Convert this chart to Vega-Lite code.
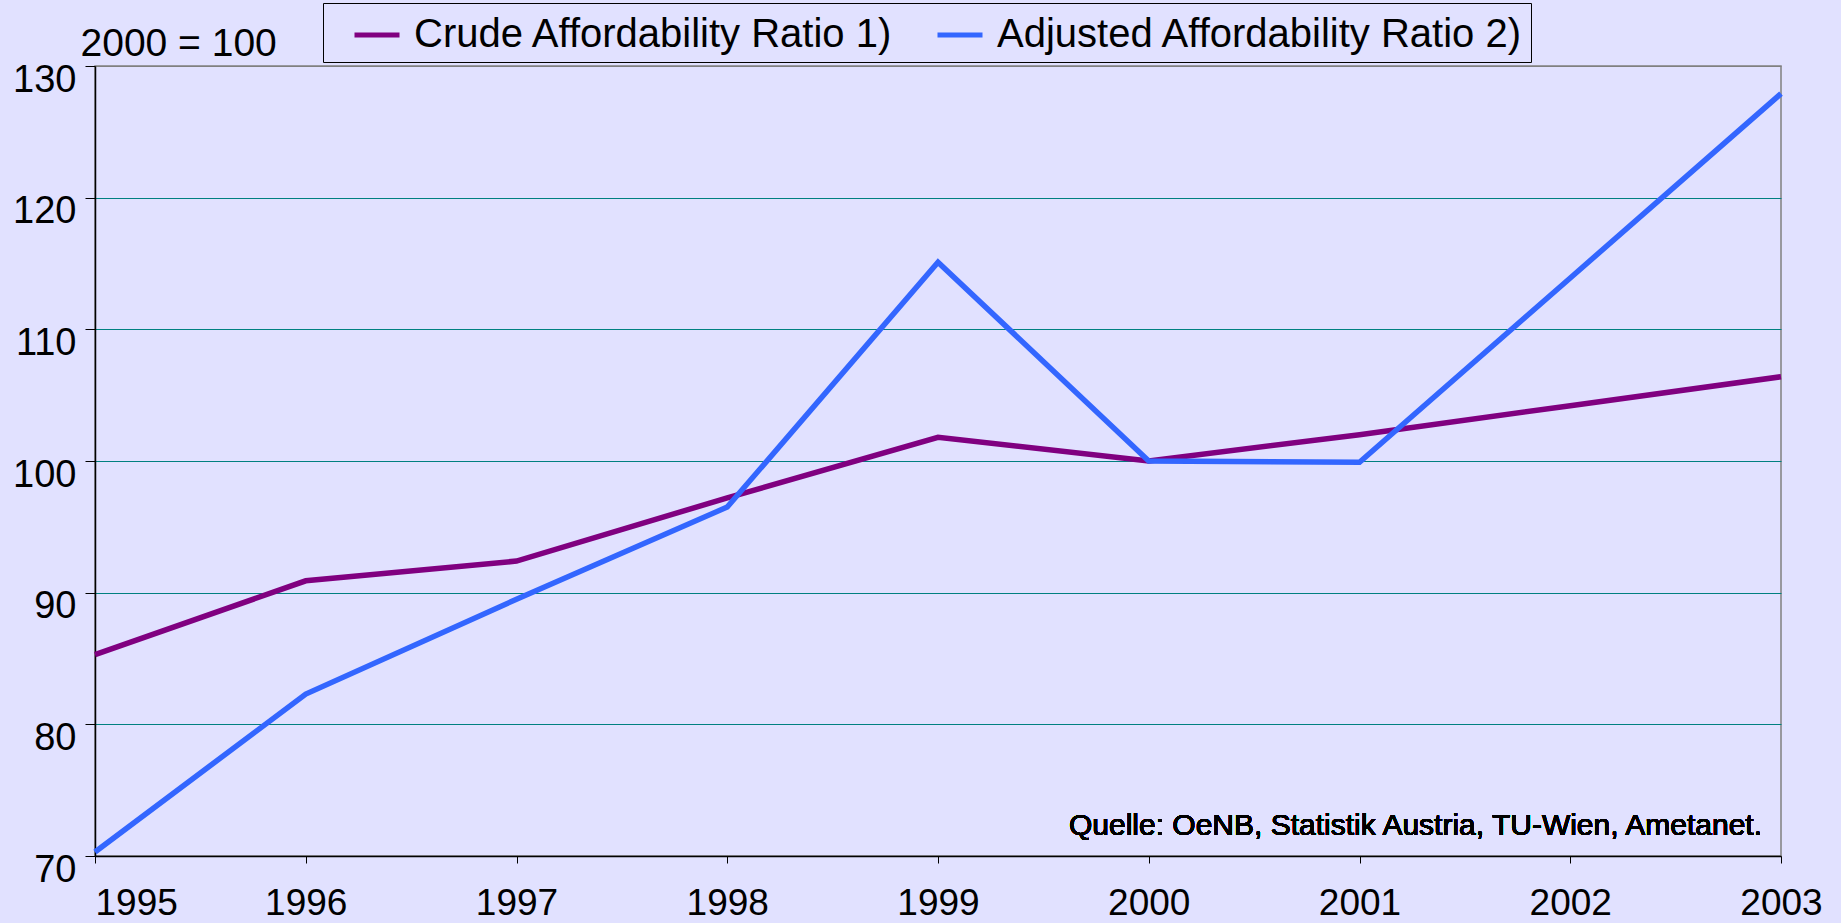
{
  "$schema": "https://vega.github.io/schema/vega-lite/v6.json",
  "width": 1686,
  "height": 790,
  "autosize": {"type": "none"},
  "padding": {"left": 95, "top": 66, "right": 60, "bottom": 67},
  "background": "#E1E1FF",
  "config": {
    "view": {"fill": "#E1E1FF", "stroke": "#808080", "strokeWidth": 1.5},
    "font": "Liberation Sans, Arial, sans-serif"
  },
  "data": {
    "values": [
      {"year": 1995, "series": "Crude Affordability Ratio 1)", "value": 85.3},
      {"year": 1996, "series": "Crude Affordability Ratio 1)", "value": 90.9},
      {"year": 1997, "series": "Crude Affordability Ratio 1)", "value": 92.4},
      {"year": 1998, "series": "Crude Affordability Ratio 1)", "value": 97.2},
      {"year": 1999, "series": "Crude Affordability Ratio 1)", "value": 101.8},
      {"year": 2000, "series": "Crude Affordability Ratio 1)", "value": 100.0},
      {"year": 2001, "series": "Crude Affordability Ratio 1)", "value": 102.0},
      {"year": 2002, "series": "Crude Affordability Ratio 1)", "value": 104.2},
      {"year": 2003, "series": "Crude Affordability Ratio 1)", "value": 106.4},
      {"year": 1995, "series": "Adjusted Affordability Ratio 2)", "value": 70.3},
      {"year": 1996, "series": "Adjusted Affordability Ratio 2)", "value": 82.3},
      {"year": 1997, "series": "Adjusted Affordability Ratio 2)", "value": 89.5},
      {"year": 1998, "series": "Adjusted Affordability Ratio 2)", "value": 96.5},
      {"year": 1999, "series": "Adjusted Affordability Ratio 2)", "value": 115.1},
      {"year": 2000, "series": "Adjusted Affordability Ratio 2)", "value": 100.0},
      {"year": 2001, "series": "Adjusted Affordability Ratio 2)", "value": 99.9},
      {"year": 2002, "series": "Adjusted Affordability Ratio 2)", "value": 113.9},
      {"year": 2003, "series": "Adjusted Affordability Ratio 2)", "value": 127.9}
    ]
  },
  "layer": [
    {
      "mark": {"type": "line", "strokeWidth": 5.5, "clip": false},
      "encoding": {
        "x": {
          "field": "year",
          "type": "quantitative",
          "scale": {"domain": [1995, 2003], "nice": false, "zero": false},
          "axis": {
            "title": null,
            "values": [1995, 1996, 1997, 1998, 1999, 2000, 2001, 2002, 2003],
            "format": "d",
            "grid": false,
            "domainColor": "black",
            "domainWidth": 1.5,
            "tickColor": "black",
            "tickSize": 7,
            "labelFontSize": 37,
            "labelColor": "black",
            "labelBaseline": "top",
            "labelPadding": 22,
            "labelFlush": false,
            "labelOverlap": false,
            "labelAlign": {"condition": {"test": "datum.value == 1995", "value": "left"}, "value": "center"}
          }
        },
        "y": {
          "field": "value",
          "type": "quantitative",
          "scale": {"domain": [70, 130], "nice": false, "zero": false},
          "axis": {
            "title": "2000 = 100",
            "titleAngle": 0,
            "titleAlign": "left",
            "titleBaseline": "alphabetic",
            "titleX": -15,
            "titleY": -11,
            "titleFontSize": 39,
            "titleFontWeight": "normal",
            "titleColor": "black",
            "values": [70, 80, 90, 100, 110, 120, 130],
            "grid": true,
            "gridColor": {"condition": {"test": "datum.value == 130 || datum.value == 70", "value": "#808080"}, "value": "#008080"},
            "gridWidth": 1,
            "domainColor": "black",
            "domainWidth": 1.5,
            "tickColor": "black",
            "tickSize": 10,
            "labelFontSize": 38,
            "labelColor": "black",
            "labelPadding": 9,
            "labelBaseline": "middle",
            "labelDy": 18,
            "labelOffset": 14,
            "labelFlush": false,
            "labelOverlap": false
          }
        },
        "color": {
          "field": "series",
          "type": "nominal",
          "scale": {
            "domain": ["Crude Affordability Ratio 1)", "Adjusted Affordability Ratio 2)"],
            "range": ["#800080", "#3366FF"]
          },
          "legend": {
            "title": null,
            "orient": "none",
            "legendX": 228,
            "legendY": -63,
            "direction": "horizontal",
            "symbolType": "stroke",
            "symbolStrokeWidth": 5,
            "symbolSize": 2025,
            "symbolOffset": 22,
            "labelOffset": 12,
            "labelFontSize": 40,
            "labelColor": "black",
            "labelLimit": 0,
            "columnPadding": 19,
            "strokeColor": "black",
            "fillColor": "#E1E1FF",
            "padding": 7
          }
        }
      }
    },
    {
      "mark": {"type": "text", "align": "right", "baseline": "alphabetic", "dx": -19, "dy": -21, "fontSize": 30, "fontWeight": "normal", "color": "#000000"},
      "encoding": {
        "x": {"datum": 2003, "type": "quantitative"},
        "y": {"datum": 70, "type": "quantitative"},
        "text": {"value": "Quelle: OeNB, Statistik Austria, TU-Wien, Ametanet."}
      }
    }
  ]
}
